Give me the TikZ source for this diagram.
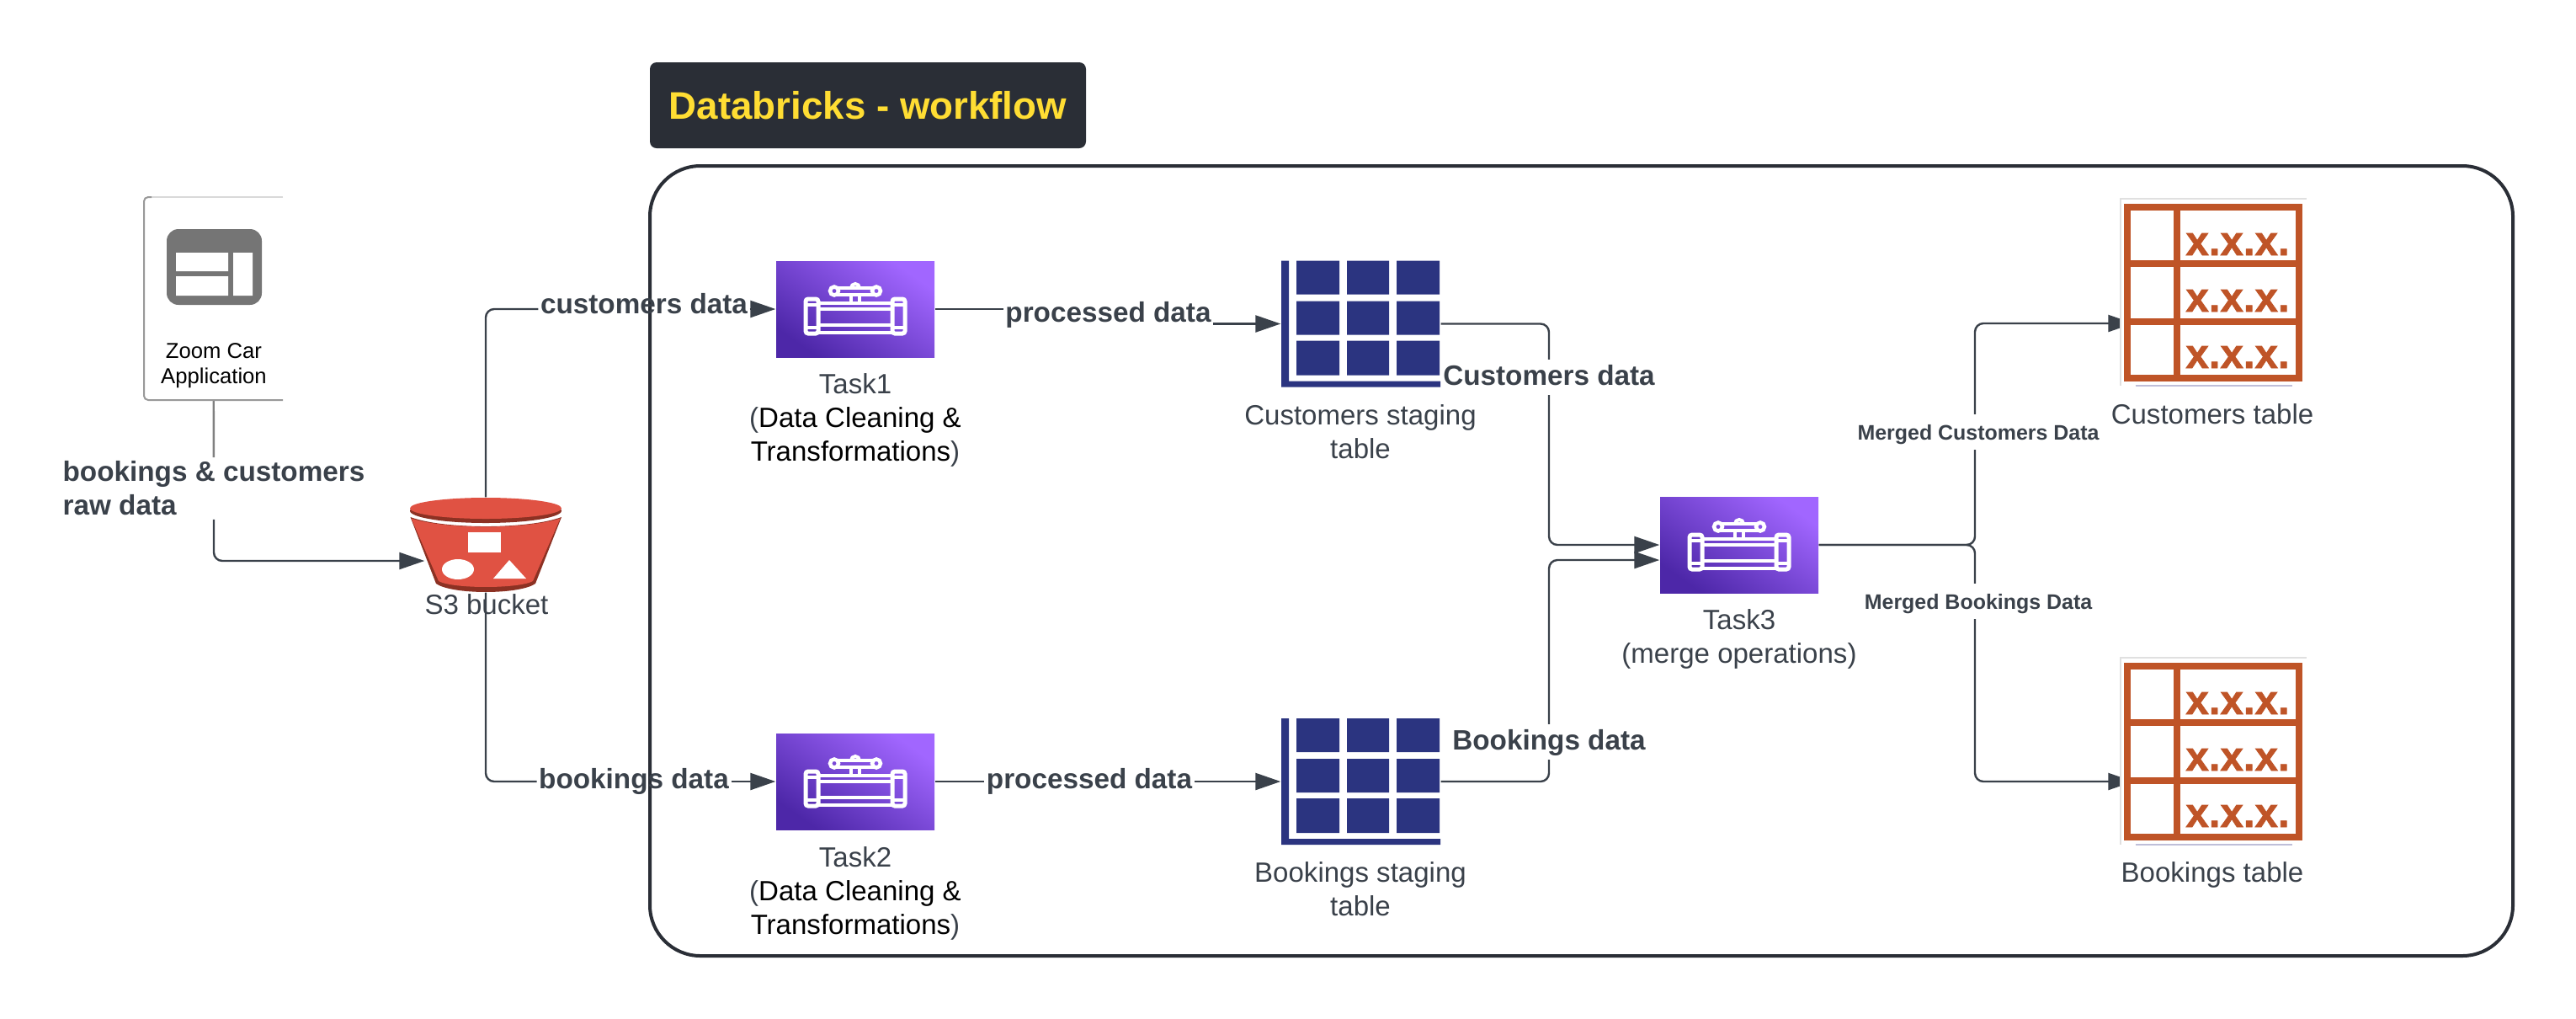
\documentclass[tikz,border=0pt]{standalone}
\usepackage{fontspec}
\usepackage{xcolor}
\setmainfont{Liberation Sans}
\newfontfamily\xfont[FakeBold=1.5]{Liberation Sans Bold}
\usetikzlibrary{arrows.meta,backgrounds}

\definecolor{linecol}{HTML}{3A414A}
\definecolor{darkbox}{HTML}{2A2E36}
\definecolor{titleyel}{HTML}{FFDD33}
\definecolor{taskdark}{HTML}{4D27A8}
\definecolor{tasklight}{HTML}{A166FF}
\definecolor{stagecol}{HTML}{2B3480}
\definecolor{tablecol}{HTML}{BF5427}
\definecolor{bucketcol}{HTML}{E05243}
\definecolor{bucketdark}{HTML}{8C3123}

\tikzset{
  conn/.style={linecol,line width=.024cm,rounded corners=.1cm},
  arrowconn/.style={conn,-{Triangle[length=.3cm,width=.2cm]}},
  caption/.style={linecol,align=center,inner sep=0,font=\fontsize{9.4}{11.4}\selectfont},
  lab/.style={linecol,inner xsep=.02cm,inner ysep=.04cm,text height=.73em,text depth=.21em,font=\fontsize{9.47}{11.4}\selectfont\bfseries},
  smalllab/.style={lab,font=\fontsize{7.1}{9}\selectfont\bfseries},
  rawlabel/.style={linecol,align=left,inner xsep=.02cm,inner ysep=.04cm,font=\fontsize{9.47}{11.4}\selectfont\bfseries},
  xmark/.style={tablecol,anchor=base,inner sep=0,font=\xfont\fontsize{14}{16}\selectfont},
  taskbox/.style={minimum width=1.88cm,minimum height=1.14cm,inner sep=0,left color=taskdark,right color=tasklight,shading angle=145},
  stagebox/.style={minimum width=1.89cm,minimum height=1.5cm,inner sep=0},
  tablebox/.style={minimum width=2.21cm,minimum height=2.22cm,inner sep=0,fill=white},
  pipeicon/.pic={
    \draw [white,line width=.05cm,rounded corners=.03cm] (-.59,.12) rectangle (-.44,-.29);
    \draw [white,line width=.05cm,rounded corners=.03cm] (.44,.12) rectangle (.59,-.29);
    \draw [white,line width=.035cm] (-.6,.05) -- (-.44,.05) (.44,.05) -- (.6,.05);
    \draw [white,line width=.035cm] (-.6,-.22) -- (-.44,-.22) (.44,-.22) -- (.6,-.22);
    \draw [white,line width=.04cm] (-.44,.07) -- (.44,.07) (-.44,0) -- (.44,0);
    \draw [white,line width=.04cm] (-.44,-.19) -- (.44,-.19) (-.44,-.28) -- (.44,-.28);
    \draw [white,line width=.04cm] (-.05,.17) -- (-.05,.06) (.05,.17) -- (.05,.06);
    \draw [white,line width=.045cm] (-.25,.215) circle [radius=.05] (.25,.215) circle [radius=.05];
    \draw [white,line width=.045cm] (-.22,.25) -- (.22,.25) (-.22,.17) -- (.22,.17);
    \draw [white,line width=.04cm] (-.05,.25) arc (180:0:.05);
  },
  stageicon/.pic={
    \fill [stagecol] (-.945,.75) -- (-.855,.75) -- (-.855,-.68) -- (.945,-.68) -- (.945,-.75) -- (-.945,-.75) -- cycle;
    \fill [stagecol] (-.765,.75) rectangle (-.255,.35) (-.165,.75) rectangle (.335,.35) (.425,.75) rectangle (.935,.35);
    \fill [stagecol] (-.765,.27) rectangle (-.255,-.13) (-.165,.27) rectangle (.335,-.13) (.425,.27) rectangle (.935,-.13);
    \fill [stagecol] (-.765,-.2) rectangle (-.255,-.61) (-.165,-.2) rectangle (.335,-.61) (.425,-.2) rectangle (.935,-.61);
  },
  tableicon/.pic={
    \draw [black!12,line width=.02cm] (2.21/2,1.11) -- (-2.21/2,1.11) -- (-2.21/2,-1.11);
    \draw [blue!25!gray!40,line width=.02cm] (-.93,-1.11) -- (.93,-1.11);
    \draw [tablecol,line width=.085cm] (-1.025,1.01) rectangle (1.015,-1.02);
    \draw [tablecol,line width=.08cm] (-.435,1.01) -- (-.435,-1.02) (-1.025,.34) -- (1.015,.34) (-1.025,-.35) -- (1.015,-.35);
    \node (x1) [xmark] at (.285,.44) {x.x.x.};
    \node (x2) [xmark] at (.285,-.23) {x.x.x.};
    \node (x3) [xmark] at (.285,-.9) {x.x.x.};
  },
  bucketicon/.pic={
    \fill [bucketdark] (-.895,.33) .. controls (-.5,.183) and (.5,.183) .. (.9,.33) -- (.59,-.46) .. controls (.4,-.593) and (-.4,-.593) .. (-.59,-.46) -- cycle;
    \fill [bucketcol] (-.885,.315) .. controls (-.5,.183) and (.5,.183) .. (.885,.315) -- (.56,-.43) .. controls (.4,-.523) and (-.4,-.523) .. (-.56,-.43) -- cycle;
    \fill [bucketdark] (0,.405) ellipse (.9 and .145);
    \fill [bucketcol] (0,.435) ellipse (.9 and .125);
    \fill [white] (-.21,.15) rectangle (.18,-.09);
    \fill [white] (-.33,-.29) ellipse (.19 and .12);
    \fill [white] (.28,-.18) -- (.09,-.4) -- (.48,-.4) -- cycle;
  },
}

\begin{document}
\begin{tikzpicture}
  \useasboundingbox (0,0) rectangle (30.6,-12.09);

  % workflow frame and its title
  \draw [darkbox,line width=.04cm,rounded corners=.6cm] (7.72,-1.97) rectangle (29.85,-11.35);
  \node (title) [fill=darkbox,rounded corners=.08cm,minimum width=5.18cm,minimum height=1.02cm,text=titleyel,font=\fontsize{13}{15}\selectfont\bfseries] at (10.31,-1.25) {Databricks - workflow};

  % source application
  \node (appcard) [minimum width=1.65cm,minimum height=2.41cm,inner sep=0] at (2.535,-3.545) {};
  \draw [black!15,line width=.02cm] (3.36,-2.34) -- (1.8,-2.34);
  \draw [gray!80,line width=.02cm,rounded corners=.05cm] (1.8,-2.34) -- (1.71,-2.34) -- (1.71,-4.75) -- (3.36,-4.75);
  \fill [black!54,rounded corners=.14cm] (1.98,-2.72) rectangle (3.11,-3.62);
  \fill [white] (2.09,-3) rectangle (2.71,-3.22) (2.09,-3.28) rectangle (2.71,-3.51) (2.77,-3) rectangle (3,-3.51);
  \node (apptext) [black,align=center,inner sep=0,font=\fontsize{7.3}{8.55}\selectfont] at (2.54,-4.34) {Zoom Car\\Application};

  % bucket
  \node (s3) [minimum width=1.8cm,minimum height=1.12cm,inner sep=0] at (5.77,-6.47) {};
  \pic at (s3) {bucketicon};
  \node (s3text) [caption] at (5.78,-7.18) {S3 bucket};

  % tasks
  \node (task1) [taskbox] at (10.16,-3.67) {};
  \pic at (task1) {pipeicon};
  \node (task1text) [caption] at (10.16,-4.99) {Task1\\(\textcolor{black}{Data Cleaning \&}\\\textcolor{black}{Transformations})};
  \node (task2) [taskbox] at (10.16,-9.28) {};
  \pic at (task2) {pipeicon};
  \node (task2text) [caption] at (10.16,-10.61) {Task2\\(\textcolor{black}{Data Cleaning \&}\\\textcolor{black}{Transformations})};
  \node (task3) [taskbox] at (20.66,-6.47) {};
  \pic at (task3) {pipeicon};
  \node (task3text) [caption] at (20.66,-7.59) {Task3\\(merge operations)};

  % staging tables
  \node (stage1) [stagebox] at (16.165,-3.845) {};
  \pic at (stage1) {stageicon};
  \node (stage1text) [caption] at (16.16,-5.13) {Customers staging\\table};
  \node (stage2) [stagebox] at (16.165,-9.28) {};
  \pic at (stage2) {stageicon};
  \node (stage2text) [caption] at (16.16,-10.56) {Bookings staging\\table};

  % final tables
  \node (custtable) [tablebox] at (26.295,-3.47) {};
  \pic at (custtable) {tableicon};
  \node (custtext) [caption] at (26.28,-4.92) {Customers table};
  \node (booktable) [tablebox] at (26.295,-8.92) {};
  \pic at (booktable) {tableicon};
  \node (booktext) [caption] at (26.28,-10.39) {Bookings table};

  % connector labels
  \node (rawlab) [rawlabel] at (2.54,-5.8) {bookings \& customers\\raw data};
  \node (custlab) [lab] at (7.65,-3.63) {customers data};
  \node (booklab) [lab] at (7.53,-9.27) {bookings data};
  \node (proc1) [lab] at (13.165,-3.73) {processed data};
  \node (proc2) [lab] at (12.94,-9.27) {processed data};
  \node (custdata) [lab] at (18.4,-4.48) {Customers data};
  \node (bookdata) [lab] at (18.4,-8.81) {Bookings data};
  \node (mergecust) [smalllab] at (23.5,-5.13) {Merged Customers Data};
  \node (mergebook) [smalllab] at (23.5,-7.14) {Merged Bookings Data};

  \begin{scope}[on background layer]
    \draw [conn,gray] (appcard) -- (rawlab);
    \draw [arrowconn] (rawlab) |- ([xshift=.18cm,yshift=-.19cm]s3.west);
    \draw [conn] (s3) |- (custlab.west|-task1);
    \draw [arrowconn] (custlab.east|-task1) -- (task1);
    \draw [conn] (s3) |- (booklab.west|-task2);
    \draw [arrowconn] (booklab.east|-task2) -- (task2);
    \draw [conn] (task1) -- (proc1.west|-task1);
    \draw [arrowconn] (proc1.east|-stage1) -- (stage1);
    \draw [conn] (task2) -- (proc2.west|-task2);
    \draw [arrowconn] (proc2.east|-stage2) -- (stage2);
    \draw [conn] (stage1.east) -| (custdata);
    \draw [arrowconn] (custdata) |- (task3);
    \draw [conn] (stage2.east) -| (bookdata);
    \draw [arrowconn] (bookdata) |- ([yshift=-.18cm]task3.west);
    \draw [conn] (task3) -| ([xshift=-.04cm]mergecust.south);
    \draw [arrowconn] ([xshift=-.04cm]mergecust.north) |- ([xshift=.16cm,yshift=-.37cm]custtable.west);
    \draw [conn] (task3) -| ([xshift=-.04cm]mergebook.north);
    \draw [arrowconn] ([xshift=-.04cm]mergebook.south) |- ([xshift=.16cm,yshift=-.36cm]booktable.west);
  \end{scope}
\end{tikzpicture}
\end{document}
